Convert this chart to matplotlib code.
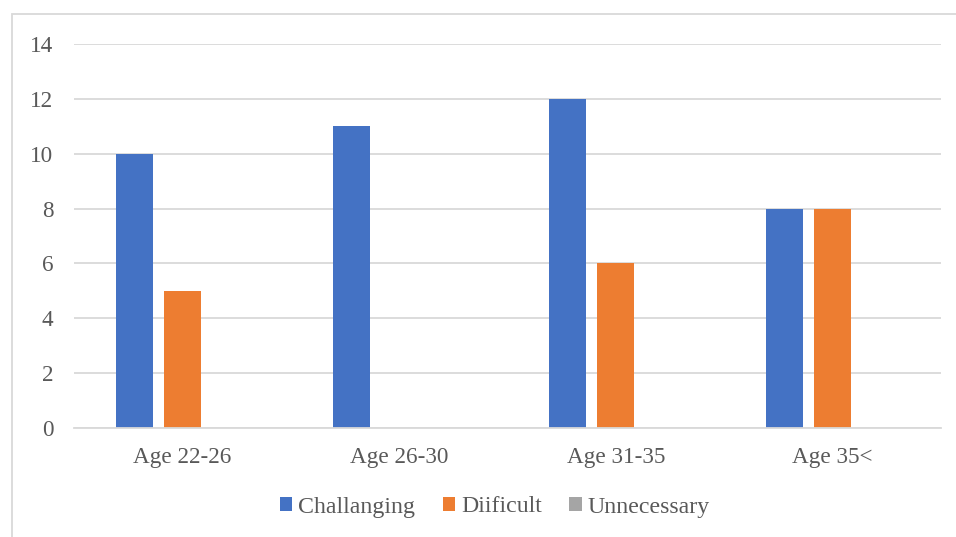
import matplotlib
matplotlib.use("Agg")
import matplotlib.pyplot as plt
from matplotlib.patches import Rectangle
from matplotlib.font_manager import FontProperties
import numpy as np

categories = ["Age 22-26", "Age 26-30", "Age 31-35", "Age 35<"]
series_names = ["Challanging", "Diificult", "Unnecessary"]
challanging = [10, 11, 12, 8]
diificult = [5, 0, 6, 8]
unnecessary = [0, 0, 0, 0]
colors = ["#4472C4", "#ED7D31", "#A5A5A5"]

plt.rcParams['font.family'] = 'serif'
plt.rcParams['font.serif'] = ['Liberation Serif', 'DejaVu Serif']
W, H = 956, 537
fig = plt.figure(figsize=(W/100, H/100), dpi=100)
ax = fig.add_axes([74/W, 1-428/H, (941-74)/W, (428-44)/H])

x = np.arange(len(categories))
bw = 0.171
step = 0.2215
for i, (vals, c, name) in enumerate(zip([challanging, diificult, unnecessary], colors, series_names)):
    ax.bar(x + (i-1)*step, vals, width=bw, color=c, label=name, zorder=3)

ax.set_xlim(-0.5, len(categories)-0.5)
ax.set_ylim(0, 14)
ax.set_yticks(range(0, 15, 2))
ax.set_xticks(x)
ax.set_xticklabels(categories)
ax.tick_params(axis='both', length=0, labelsize=16.7, colors='#595959')
ax.tick_params(axis='y', pad=15)
ax.tick_params(axis='x', pad=14)
ax.grid(axis='y', color='#D9D9D9', linewidth=1.3, zorder=0)
for s in ['top', 'right', 'left']:
    ax.spines[s].set_visible(False)
ax.spines['bottom'].set_color('#D9D9D9')
ax.spines['bottom'].set_linewidth(1.3)
ax.spines['bottom'].set_zorder(4)

fig.patches.append(Rectangle((12/W, -0.1), 1.2, 1-14/H+0.1, transform=fig.transFigure,
                             fill=False, edgecolor='#D9D9D9', linewidth=1.3))

fp = FontProperties(family='Liberation Serif', size=17.2)
leg = fig.legend(loc='center', bbox_to_anchor=(495/W, 1-507/H), ncol=3, frameon=False,
                 prop=fp, handlelength=0.52, handleheight=0.52, handletextpad=0.25,
                 columnspacing=1.15)
for t in leg.get_texts():
    t.set_color('#595959')

fig.savefig("out.png", dpi=100)
